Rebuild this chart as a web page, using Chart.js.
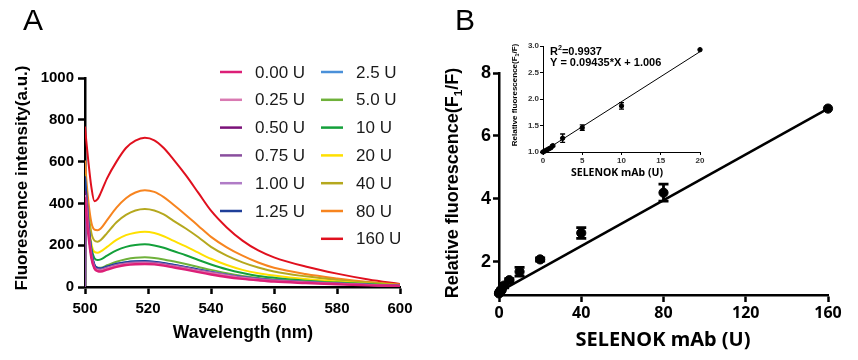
<!DOCTYPE html>
<html>
<head>
<meta charset="utf-8">
<script src="https://cdn.jsdelivr.net/npm/chart.js@4.4.1/dist/chart.umd.min.js"></script>
<style>
html,body{margin:0;padding:0;background:#fff;}
#wrap{position:relative;width:858px;height:360px;overflow:hidden;}
canvas{position:absolute;}
</style>
</head>
<body>
<div id="wrap">
  <canvas id="spectra" width="430" height="360" style="left:0;top:0"></canvas>
  <canvas id="dose" width="428" height="360" style="left:430px;top:0"></canvas>
  <canvas id="inset" width="220" height="160" style="left:500px;top:30px"></canvas>
</div>
<script>
// ---- panel A: emission spectra ----
const wavelengths = [500, 500.4, 501, 502, 503, 504, 505, 507, 510, 513, 516, 519, 522, 525, 528, 532, 536, 540, 545, 550, 555, 560, 570, 580, 590, 600];
const doseLabels = ["0.00 U", "0.25 U", "0.50 U", "0.75 U", "1.00 U", "1.25 U", "2.5 U", "5.0 U", "10 U", "20 U", "40 U", "80 U", "160 U"];
const doseColors = ["#dc1f77", "#d97ab2", "#7b1279", "#8a4e9e", "#b07cc6", "#1f3f99", "#4a90d9", "#6fb13a", "#13a03a", "#ffe000", "#b5a81e", "#f7841f", "#e0101e"];

const spec000 = [430, 360, 260, 140, 88, 76, 74, 83, 96, 105, 109, 110, 108, 102, 94, 83, 71, 60, 48, 39, 32, 26, 19, 13, 8, 5];
const spec025 = [440, 380, 280, 150, 93, 81, 80, 89, 102, 110, 114, 115, 113, 107, 99, 89, 77, 67, 55, 44, 36, 30, 22, 15, 10, 5];
const spec050 = [460, 390, 290, 150, 92, 80, 79, 88, 101, 109, 113, 114, 112, 106, 98, 88, 76, 66, 54, 44, 36, 30, 22, 15, 10, 5];
const spec075 = [0, 440, 320, 160, 98, 85, 83, 91, 104, 112, 116, 117, 115, 109, 101, 91, 79, 68, 56, 45, 37, 31, 22, 16, 10, 6];
const spec100 = [450, 380, 280, 150, 95, 84, 83, 92, 105, 113, 117, 118, 116, 110, 102, 92, 80, 69, 57, 46, 38, 32, 23, 16, 10, 6];
const spec125 = [530, 450, 330, 175, 107, 92, 89, 98, 111, 119, 123, 124, 121, 115, 107, 96, 84, 72, 59, 48, 39, 33, 24, 17, 11, 6];
const spec250 = [520, 440, 320, 170, 105, 90, 88, 97, 110, 118, 122, 123, 120, 114, 106, 95, 83, 72, 59, 48, 39, 33, 24, 17, 11, 6];
const spec5 = [470, 400, 290, 160, 105, 92, 92, 104, 121, 133, 140, 142, 139, 132, 123, 110, 96, 82, 66, 53, 43, 36, 26, 19, 12, 7];
const spec10 = [480, 410, 310, 190, 138, 129, 132, 150, 175, 192, 201, 204, 199, 188, 172, 152, 129, 108, 85, 67, 53, 44, 30, 21, 14, 7];
const spec20 = [500, 430, 330, 210, 168, 164, 170, 192, 225, 248, 260, 264, 258, 243, 222, 194, 164, 135, 105, 82, 66, 55, 38, 26, 16, 8];
const spec40 = [540, 470, 370, 260, 222, 217, 225, 258, 310, 345, 366, 373, 366, 347, 318, 280, 238, 192, 150, 118, 93, 74, 51, 34, 21, 10];
const spec80 = [605, 520, 420, 310, 275, 272, 280, 320, 380, 425, 452, 463, 455, 430, 395, 345, 292, 240, 190, 150, 117, 92, 62, 41, 24, 12];
const spec160 = [768, 700, 610, 480, 410, 420, 450, 520, 600, 665, 700, 714, 702, 665, 612, 535, 450, 365, 285, 222, 175, 142, 98, 64, 36, 14];
const spectra = [spec000, spec025, spec050, spec075, spec100, spec125, spec250, spec5, spec10, spec20, spec40, spec80, spec160];

// ---- panel B: dose response ----
const mabX = [0, 0.25, 0.5, 0.75, 1, 1.25, 2.5, 5, 10, 20, 40, 80, 160];
const mabY = [1.0, 1.03, 1.05, 1.07, 1.09, 1.13, 1.25, 1.42, 1.69, 2.08, 2.92, 4.2, 6.87];
const mabErr = [0.02, 0.02, 0.02, 0.02, 0.02, 0.03, 0.07, 0.05, 0.14, 0.05, 0.17, 0.27, 0];
const fitX = [0, 160];
const fitY = [1.05, 6.87];

// ---- inset: low range ----
const lowX = [0, 0.25, 0.5, 0.75, 1, 1.25, 2.5, 5, 10, 20];
const lowY = [1.0, 1.02, 1.04, 1.06, 1.08, 1.12, 1.26, 1.46, 1.87, 2.93];
const lowErr = [0.01, 0.01, 0.01, 0.01, 0.01, 0.02, 0.08, 0.05, 0.06, 0];
const lowFitX = [0, 20];
const lowFitY = [1.006, 2.893];

const ARIAL = "'Liberation Sans', Arial, sans-serif";
const NOTO = "'Noto Sans', 'Open Sans', sans-serif";

function pts(xs, ys){
    return xs.map((x, i) => ({ x: x, y: ys[i] }));
}

function axis(o){
    return {
        type: "linear",
        min: o.min,
        max: o.max,
        afterFit: o.fit,
        afterBuildTicks: o.tickValues ? (s => { s.ticks = o.tickValues.map(v => ({ value: v })); }) : undefined,
        border: { display: true, color: "#000", width: o.width },
        grid: { display: true, drawOnChartArea: false, drawTicks: true, tickLength: o.tickLength, tickWidth: o.width, tickColor: "#000" },
        ticks: {
            stepSize: o.step,
            color: o.color || "#000",
            padding: o.padding,
            font: { family: o.family || ARIAL, size: o.size, weight: "bold" },
            callback: o.format || (v => v)
        }
    };
}

function drawRich(ctx, parts, x, y, size, family, angle, align){
    ctx.save();
    ctx.translate(x, y);
    ctx.rotate(angle || 0);
    ctx.fillStyle = "#000";
    ctx.textBaseline = "middle";
    ctx.textAlign = "left";
    const fontFor = p => "bold " + ((p.sub || p.sup) ? size * 0.65 : size) + "px " + family;
    let total = 0;
    parts.forEach(p => { ctx.font = fontFor(p); total += ctx.measureText(p.t).width; });
    let cx = align === "left" ? 0 : -total / 2;
    parts.forEach(p => {
        ctx.font = fontFor(p);
        const dy = p.sub ? size * 0.3 : (p.sup ? -size * 0.35 : 0);
        ctx.fillText(p.t, cx, dy);
        cx += ctx.measureText(p.t).width;
    });
    ctx.restore();
}

// free text (titles, panel letters)
const textPlugin = {
    id: "freeText",
    afterDraw(chart, args, opts){
        const ctx = chart.ctx;
        (opts.items || []).forEach(it => {
            if(it.plain){
                ctx.save();
                ctx.font = it.font;
                ctx.fillStyle = "#000";
                ctx.textAlign = "center";
                ctx.textBaseline = "middle";
                ctx.fillText(it.plain, it.x, it.y);
                ctx.restore();
            } else {
                drawRich(ctx, it.parts, it.x, it.y, it.size, it.family, it.angle, it.align);
            }
        });
    }
};

// error bars with caps
const errorPlugin = {
    id: "errorBars",
    afterDatasetsDraw(chart){
        const ctx = chart.ctx;
        const xs = chart.scales.x, ys = chart.scales.y;
        chart.data.datasets.forEach(ds => {
            if(!ds.errorBars) return;
            ctx.save();
            ctx.strokeStyle = "#000";
            ctx.lineWidth = ds.errorWidth;
            ds.data.forEach((p, i) => {
                const e = ds.errorBars[i];
                if(!e) return;
                const px = xs.getPixelForValue(p.x);
                const top = ys.getPixelForValue(p.y + e);
                const bot = ys.getPixelForValue(p.y - e);
                ctx.beginPath();
                ctx.moveTo(px, top); ctx.lineTo(px, bot);
                ctx.moveTo(px - ds.capHalf, top); ctx.lineTo(px + ds.capHalf, top);
                ctx.moveTo(px - ds.capHalf, bot); ctx.lineTo(px + ds.capHalf, bot);
                ctx.stroke();
            });
            ctx.restore();
        });
    }
};

// two-column legend
const legendPlugin = {
    id: "twoColLegend",
    afterDraw(chart, args, opts){
        const ctx = chart.ctx;
        chart.data.datasets.forEach((ds, i) => {
            const col = i < opts.perCol ? 0 : 1;
            const row = col ? i - opts.perCol : i;
            const x = opts.x[col];
            const y = opts.y + row * opts.rowGap;
            ctx.save();
            ctx.strokeStyle = ds.borderColor;
            ctx.lineWidth = 2.5;
            ctx.beginPath();
            ctx.moveTo(x, y); ctx.lineTo(x + 22, y);
            ctx.stroke();
            ctx.fillStyle = "#1a1a1a";
            ctx.font = "17px " + ARIAL;
            ctx.textAlign = "left";
            ctx.textBaseline = "middle";
            ctx.fillText(ds.label, x + 35, y + 1);
            ctx.restore();
        });
    }
};

new Chart(document.getElementById("spectra"), {
    type: "line",
    data: {
        datasets: spectra.map((s, i) => ({
            label: doseLabels[i],
            data: pts(wavelengths, s),
            borderColor: doseColors[i],
            borderWidth: i === 0 ? 2.4 : 2,
            pointRadius: 0,
            cubicInterpolationMode: "monotone",
            fill: false
        }))
    },
    options: {
        responsive: false,
        devicePixelRatio: 1,
        animation: false,
        events: [],
        layout: { padding: { top: 78, right: 30, left: 0, bottom: 0 } },
        scales: {
            x: axis({ min: 500, max: 600, step: 20, width: 2.5, tickLength: 7, padding: 6, size: 15, fit: s => { s.height = 73; } }),
            y: axis({ min: 0, max: 1000, step: 200, width: 2.5, tickLength: 7, padding: 4, size: 15, fit: s => { s.width = 85; } })
        },
        plugins: {
            legend: { display: false },
            tooltip: { enabled: false },
            twoColLegend: { perCol: 6, x: [220, 321], y: 72, rowGap: 27.8 },
            freeText: { items: [
                { plain: "A", x: 33, y: 22, font: "30px " + ARIAL },
                { parts: [{ t: "Fluorescence intensity(a.u.)" }], x: 22, y: 178, size: 17, family: ARIAL, angle: -Math.PI / 2 },
                { parts: [{ t: "Wavelength (nm)" }], x: 243, y: 333, size: 17.5, family: ARIAL }
            ] }
        }
    },
    plugins: [legendPlugin, textPlugin]
});

new Chart(document.getElementById("dose"), {
    type: "scatter",
    data: {
        datasets: [
            {
                label: "mean",
                data: pts(mabX, mabY),
                errorBars: mabErr,
                errorWidth: 2.8,
                capHalf: 5,
                backgroundColor: "#000",
                borderColor: "#000",
                pointRadius: 4.6,
                clip: false
            },
            {
                label: "fit",
                data: pts(fitX, fitY),
                showLine: true,
                borderColor: "#000",
                borderWidth: 2.5,
                pointRadius: 0,
                clip: false
            }
        ]
    },
    options: {
        responsive: false,
        devicePixelRatio: 1,
        animation: false,
        events: [],
        layout: { padding: { top: 73, right: 30, left: 0, bottom: 0 } },
        scales: {
            x: axis({ min: 0, max: 160, step: 40, width: 2.5, tickLength: 7, padding: 2, size: 16, family: NOTO, fit: s => { s.height = 65; } }),
            y: axis({ min: 0.95, max: 8, width: 2.5, tickLength: 6, padding: 2, size: 18, tickValues: [2, 4, 6, 8], fit: s => { s.width = 69; } })
        },
        plugins: {
            legend: { display: false },
            tooltip: { enabled: false },
            freeText: { items: [
                { plain: "B", x: 35, y: 22, font: "30px " + ARIAL },
                { parts: [{ t: "Relative fluorescence(F" }, { t: "1", sub: true }, { t: "/F)" }], x: 23, y: 183, size: 18, family: ARIAL, angle: -Math.PI / 2 },
                { parts: [{ t: "SELENOK mAb (U)" }], x: 233, y: 340, size: 20, family: NOTO }
            ] }
        }
    },
    plugins: [errorPlugin, textPlugin]
});

new Chart(document.getElementById("inset"), {
    type: "scatter",
    data: {
        datasets: [
            {
                label: "mean",
                data: pts(lowX, lowY),
                errorBars: lowErr,
                errorWidth: 1.3,
                capHalf: 2.5,
                backgroundColor: "#000",
                borderColor: "#000",
                pointRadius: 2.2,
                clip: false
            },
            {
                label: "fit",
                data: pts(lowFitX, lowFitY),
                showLine: true,
                borderColor: "#000",
                borderWidth: 1,
                pointRadius: 0
            }
        ]
    },
    options: {
        responsive: false,
        devicePixelRatio: 1,
        animation: false,
        events: [],
        layout: { padding: { top: 16, right: 20, left: 0, bottom: 0 } },
        scales: {
            x: axis({ min: 0, max: 20, step: 5, width: 1, tickLength: 3, padding: 1, size: 8, color: "#333", fit: s => { s.height = 38; } }),
            y: axis({ min: 1, max: 3, step: 0.5, width: 1, tickLength: 3, padding: 1, size: 8, color: "#333", format: v => v.toFixed(1), fit: s => { s.width = 43; } })
        },
        plugins: {
            legend: { display: false },
            tooltip: { enabled: false },
            freeText: { items: [
                { parts: [{ t: "R" }, { t: "2", sup: true }, { t: "=0.9937" }], x: 50, y: 22, size: 11, family: ARIAL, align: "left" },
                { parts: [{ t: "Y = 0.09435*X + 1.006" }], x: 50, y: 33, size: 11, family: ARIAL, align: "left" },
                { parts: [{ t: "Relative fluorescence(F" }, { t: "1", sub: true }, { t: "/F)" }], x: 15, y: 65, size: 8, family: ARIAL, angle: -Math.PI / 2 },
                { parts: [{ t: "SELENOK mAb (U)" }], x: 117, y: 143, size: 10.5, family: NOTO }
            ] }
        }
    },
    plugins: [errorPlugin, textPlugin]
});
</script>
</body>
</html>
